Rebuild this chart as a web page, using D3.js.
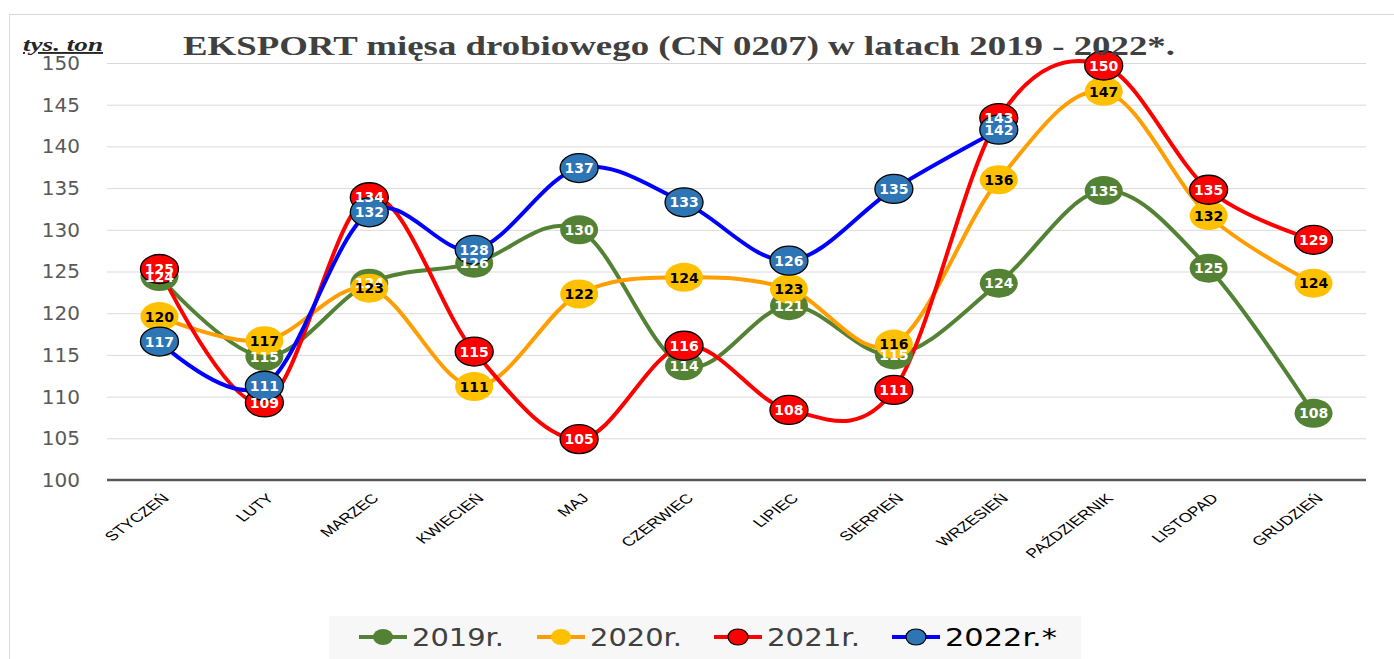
<!DOCTYPE html>
<html lang="pl">
<head>
<meta charset="UTF-8">
<title>EKSPORT mięsa drobiowego</title>
<script src="https://d3js.org/d3.v7.min.js"></script>
<style>
  body { margin: 0; background: #fff; }
  svg { display: block; }
</style>
</head>
<body>
<svg width="1394" height="659"></svg>
<script>
// data
const months = ["STYCZEŃ", "LUTY", "MARZEC", "KWIECIEŃ", "MAJ", "CZERWIEC", "LIPIEC",
  "SIERPIEŃ", "WRZESIEŃ", "PAŹDZIERNIK", "LISTOPAD", "GRUDZIEŃ"];
const v2019 = [124.4, 114.8, 123.6, 126.0, 130.0, 113.7, 120.9, 115.0, 123.6, 134.7, 125.4, 108.0];
const v2020 = [119.6, 116.7, 123.0, 111.2, 122.3, 124.3, 122.9, 116.3, 136.0, 146.6, 131.7, 123.6];
const v2021 = [125.3, 109.3, 133.9, 115.4, 104.9, 116.1, 108.4, 110.8, 143.4, 149.7, 134.8, 128.8];
const v2022 = [116.6, 111.3, 132.1, 127.6, 137.4, 133.3, 126.3, 134.9, 142.0];
const yTicks = [100, 105, 110, 115, 120, 125, 130, 135, 140, 145, 150];
const seriesNames = ["2019r.", "2020r.", "2021r.", "2022r.*"];

const series = [
  { name: seriesNames[0], values: v2019, line: "#548235", fill: "#548235", stroke: "none", text: "#fff", legendText: "#404040" },
  { name: seriesNames[1], values: v2020, line: "#ff9e00", fill: "#ffc000", stroke: "none", text: "#000", legendText: "#404040" },
  { name: seriesNames[2], values: v2021, line: "#ff0000", fill: "#ff0000", stroke: "#000", text: "#fff", legendText: "#404040" },
  { name: seriesNames[3], values: v2022, line: "#0000ff", fill: "#2e75b6", stroke: "#000", text: "#fff", legendText: "#000" }
];

const svg = d3.select("svg");

// outer frame
svg.append("rect")
  .attr("x", 9.5).attr("y", 14.5)
  .attr("width", 1400).attr("height", 700)
  .attr("fill", "#fff").attr("stroke", "#d9d9d9");

const plot = { left: 107, right: 1366, top: 63, bottom: 480 };

const x = d3.scalePoint()
  .domain(months)
  .range([plot.left, plot.right])
  .padding(0.5);

const y = d3.scaleLinear()
  .domain([100, 150])
  .range([plot.bottom, plot.top]);

// y axis with gridlines
const yAxis = svg.append("g")
  .attr("transform", `translate(${plot.left},0)`)
  .call(d3.axisLeft(y).tickValues(yTicks).tickSize(-(plot.right - plot.left)).tickPadding(27));
yAxis.select(".domain").remove();
yAxis.selectAll(".tick line").attr("stroke", "#d9d9d9");
yAxis.selectAll(".tick text")
  .attr("fill", "#595959")
  .attr("font-family", "DejaVu Sans")
  .attr("font-size", 20);

// x axis
const xAxis = svg.append("g")
  .attr("transform", `translate(0,${plot.bottom})`)
  .call(d3.axisBottom(x).tickSize(0).tickPadding(0));
xAxis.select(".domain")
  .attr("d", `M${plot.left},0H${plot.right}`)
  .attr("stroke", "#595959").attr("stroke-width", 2.5);
xAxis.selectAll(".tick text")
  .attr("y", 0).attr("dy", 0)
  .attr("fill", "#000")
  .attr("font-family", "Liberation Sans")
  .attr("font-size", 13)
  .attr("text-anchor", "end")
  .attr("transform", "translate(10,19) scale(1.35,1) rotate(-45)");

// lines
const line = d3.line()
  .x((d, i) => x(months[i]))
  .y(d => y(d))
  .curve(d3.curveCardinal);

series.forEach(s => {
  svg.append("path")
    .datum(s.values)
    .attr("fill", "none")
    .attr("stroke", s.line)
    .attr("stroke-width", 4)
    .attr("stroke-linejoin", "round")
    .attr("d", line);
});

// markers
series.forEach(s => {
  svg.append("g").selectAll("ellipse")
    .data(s.values)
    .join("ellipse")
    .attr("cx", (d, i) => x(months[i]))
    .attr("cy", d => y(d))
    .attr("rx", 19).attr("ry", 14.5)
    .attr("fill", s.fill)
    .attr("stroke", s.stroke)
    .attr("stroke-width", 1.3);
});

// data labels
series.forEach(s => {
  svg.append("g").selectAll("text")
    .data(s.values)
    .join("text")
    .attr("x", (d, i) => x(months[i]))
    .attr("y", d => y(d))
    .attr("dy", "0.37em")
    .attr("text-anchor", "middle")
    .attr("font-family", "DejaVu Sans")
    .attr("font-weight", "bold")
    .attr("font-size", 14)
    .attr("fill", s.text)
    .text(d => Math.round(d));
});

// title
svg.append("text")
  .attr("x", 183).attr("y", 55)
  .attr("font-family", "Liberation Serif")
  .attr("font-weight", "bold")
  .attr("font-size", 28)
  .attr("fill", "#404040")
  .attr("textLength", 992)
  .attr("lengthAdjust", "spacingAndGlyphs")
  .text("EKSPORT mięsa drobiowego (CN 0207) w latach 2019 - 2022*.");

svg.append("text")
  .attr("x", 23).attr("y", 51)
  .attr("font-family", "Liberation Serif")
  .attr("font-weight", "bold")
  .attr("font-style", "italic")
  .attr("font-size", 19)
  .attr("fill", "#262626")
  .attr("text-decoration", "underline")
  .attr("textLength", 80)
  .attr("lengthAdjust", "spacingAndGlyphs")
  .text("tys. ton");

// legend
const legend = svg.append("g");
legend.append("rect")
  .attr("x", 329).attr("y", 616)
  .attr("width", 752).attr("height", 60)
  .attr("fill", "#f7f7f7");

const legendX = [359, 537, 714, 892];
const legendW = [92, 92, 93, 112];
series.forEach((s, i) => {
  const g = legend.append("g").attr("transform", `translate(${legendX[i]},637)`);
  g.append("line")
    .attr("x1", 0).attr("x2", 48)
    .attr("stroke", s.line).attr("stroke-width", 4);
  g.append("ellipse")
    .attr("cx", 24).attr("rx", 10).attr("ry", 8)
    .attr("fill", s.fill)
    .attr("stroke", s.stroke).attr("stroke-width", 1.2);
  g.append("text")
    .attr("x", 53).attr("y", 9)
    .attr("font-family", "DejaVu Sans")
    .attr("font-size", 25)
    .attr("fill", s.legendText)
    .attr("textLength", legendW[i])
    .attr("lengthAdjust", "spacingAndGlyphs")
    .text(s.name);
});
</script>
</body>
</html>
